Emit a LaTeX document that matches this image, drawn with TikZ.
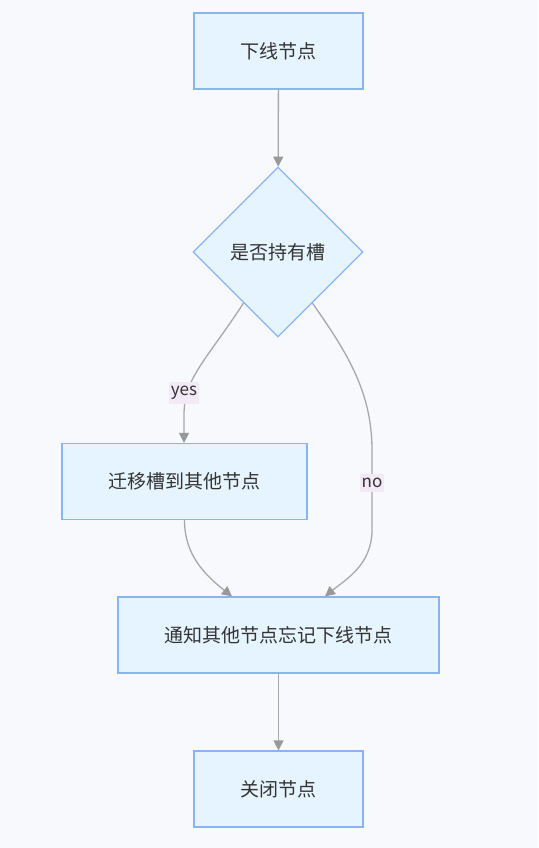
\documentclass[tikz,border=0pt]{standalone}
\usepackage{fontspec}
\setmainfont{Noto Sans CJK SC}
\usetikzlibrary{shapes.geometric,arrows.meta}
\definecolor{bgc}{HTML}{F8F9FC}
\definecolor{nodefill}{HTML}{E6F4FF}
\definecolor{nodestroke}{HTML}{88B4F0}
\definecolor{edgec}{HTML}{A8A8A8}
\definecolor{tipc}{HTML}{999999}
\definecolor{lblbg}{HTML}{F3E9F7}
\definecolor{txt}{HTML}{333333}
\begin{document}
\begin{tikzpicture}[x=1pt,y=-1pt,
  box/.style={draw=nodestroke, fill=nodefill, line width=1.2pt, minimum height=76pt, inner sep=0pt, font=\fontsize{19}{23}\selectfont, text=txt},
  dia/.style={diamond, shape aspect=1, draw=nodestroke, fill=nodefill, line width=1.2pt, minimum width=170pt, minimum height=170pt, inner sep=0pt, font=\fontsize{19}{23}\selectfont, text=txt},
  edge/.style={draw=edgec, line width=1.3pt, -{Triangle[length=10pt,width=10pt,fill=tipc,color=tipc]}},
  lbl/.style={fill=lblbg, inner xsep=2pt, inner ysep=4pt, font=\fontsize{17}{20}\selectfont, text=txt}]
\fill[bgc] (0,0) rectangle (538,848);
\useasboundingbox (0,0) rectangle (538,848);
\node[box, minimum width=169pt] (a) at (278.5,51) {下线节点};
\node[dia] (b) at (278,252) {是否持有槽};
\node[box, minimum width=245pt] (c) at (184.5,481.5) {迁移槽到其他节点};
\node[box, minimum width=321pt] (d) at (278.5,635) {通知其他节点忘记下线节点};
\node[box, minimum width=169pt] (e) at (278.5,789) {关闭节点};
\draw[edge] (a) -- (b);
\draw[edge] (b.-124) .. controls (205,362) and (184,378) .. (184,415) -- (c.north -| 184,0);
\draw[edge] (b.-56) .. controls (345,350) and (372,390) .. (372,450) -- (372,530) .. controls (372,565) and (345,580) .. ([xshift=46.5pt]d.north);
\draw[edge] (c.south) .. controls (184.5,555) and (205,575) .. ([xshift=-46.5pt]d.north);
\draw[edge] (d) -- (e);
\node[lbl] (lyes) at (184,393) {yes};
\node[lbl] (lno) at (372,483) {no};
\end{tikzpicture}
\end{document}
